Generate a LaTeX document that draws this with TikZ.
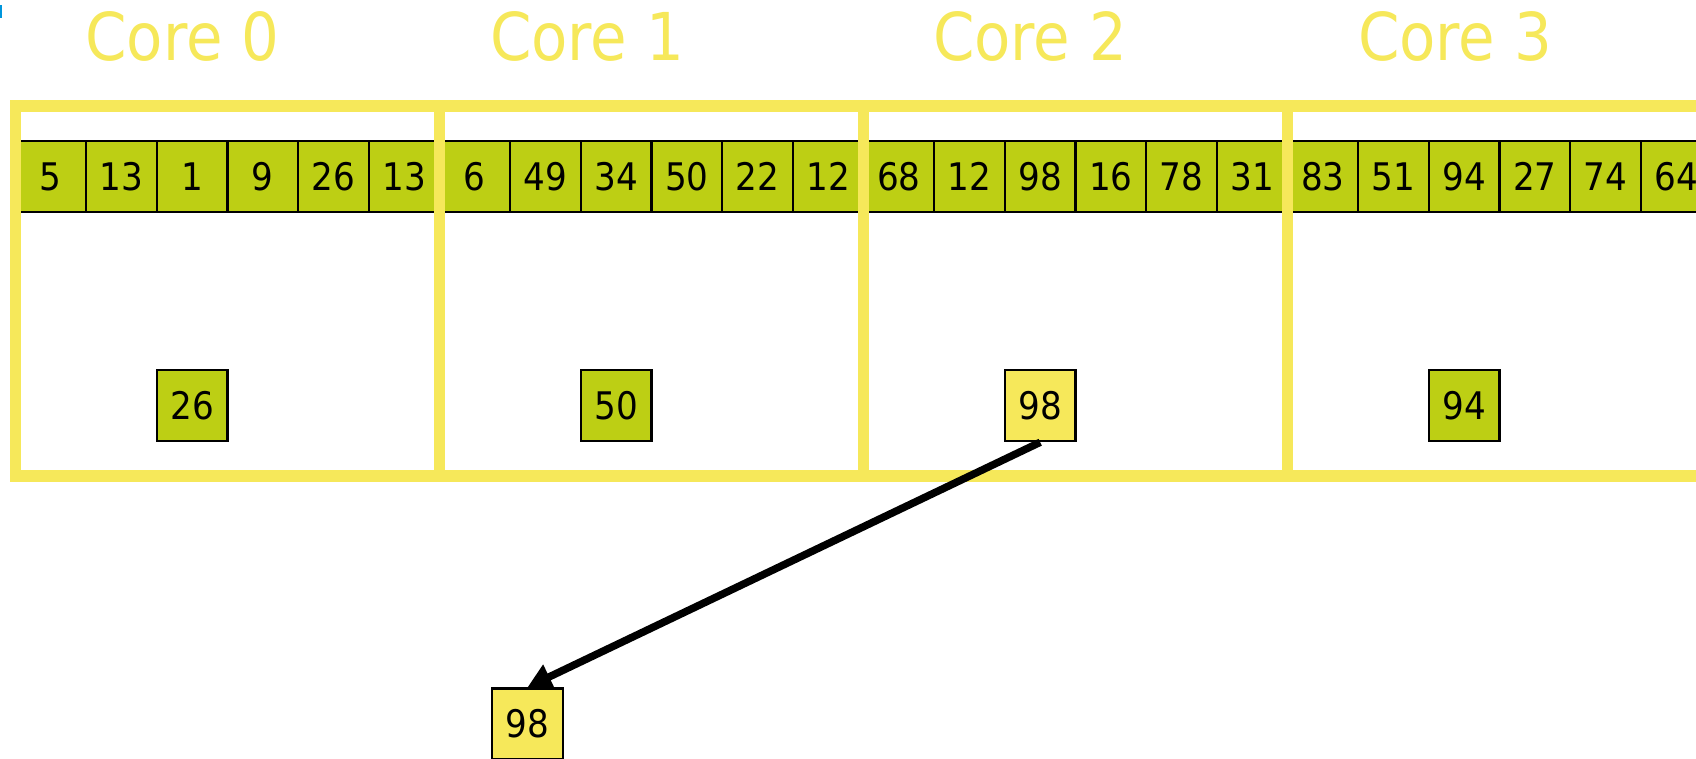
\documentclass[tikz,border=0pt]{standalone}
\usepackage{fontspec}
\setmainfont{DejaVu Sans Condensed}
\usetikzlibrary{arrows.meta}
\definecolor{coreyellow}{RGB}{246,232,90}
\definecolor{cellgreen}{RGB}{189,207,20}
\definecolor{markblue}{RGB}{0,150,220}

\begin{document}
\begin{tikzpicture}[x=1pt,y=-1pt,
  cell/.style={draw=black, line width=2.2pt, fill=cellgreen,
    minimum width=70.667pt, minimum height=71pt, inner sep=0pt,
    font=\fontsize{38}{40}\selectfont},
  maxbox/.style={cell, line width=2.5pt},
  winner/.style={maxbox, fill=coreyellow},
  coreframe/.style={draw=coreyellow, line width=11.5pt, fill=none,
    minimum width=424pt, minimum height=370pt, inner sep=0pt},
  coretitle/.style={text=coreyellow, anchor=base,
    font=\fontsize{66}{70}\selectfont},
  sendarrow/.style={draw=black, line width=7.5pt,
    -{Triangle[length=24pt,width=26pt]}}
]
\useasboundingbox (0,0) rectangle (1696,758);
\clip (0,0) rectangle (1696,758);

% small marker at the top-left corner
\fill[markblue] (0,5) rectangle (2,18);

% the array, split into four chunks of six values
\foreach \vals [count=\k from 0] in
  {{5,13,1,9,26,13},{6,49,34,50,22,12},{68,12,98,16,78,31},{83,51,94,27,74,64}} {
  \foreach \v [count=\j from 0] in \vals {
    \node[cell] (cell-\k-\j) at ({15.5+424*\k+70.667*(\j+0.5)},176.5) {\v};
  }
}

% one frame per core
\foreach \k in {0,1,2,3} {
  \node[coreframe] (core\k) at ({227.5+424*\k},291) {};
}

% core titles
\node[coretitle] (title0) at (182.5,60) {Core 0};
\node[coretitle] (title1) at (587,60) {Core 1};
\node[coretitle] (title2) at (1030,60) {Core 2};
\node[coretitle] (title3) at (1455,60) {Core 3};

% local maximum of each core
\node[maxbox] (max0) at (192.2,405.5) {26};
\node[maxbox] (max1) at (616.2,405.5) {50};
\node[winner] (max2) at (1040.2,405.5) {98};
\node[maxbox] (max3) at (1464.2,405.5) {94};

% global maximum
\node[winner] (result) at (527.5,724) {98};

\draw[sendarrow] (max2.south) -- (result.north);
\end{tikzpicture}
\end{document}
